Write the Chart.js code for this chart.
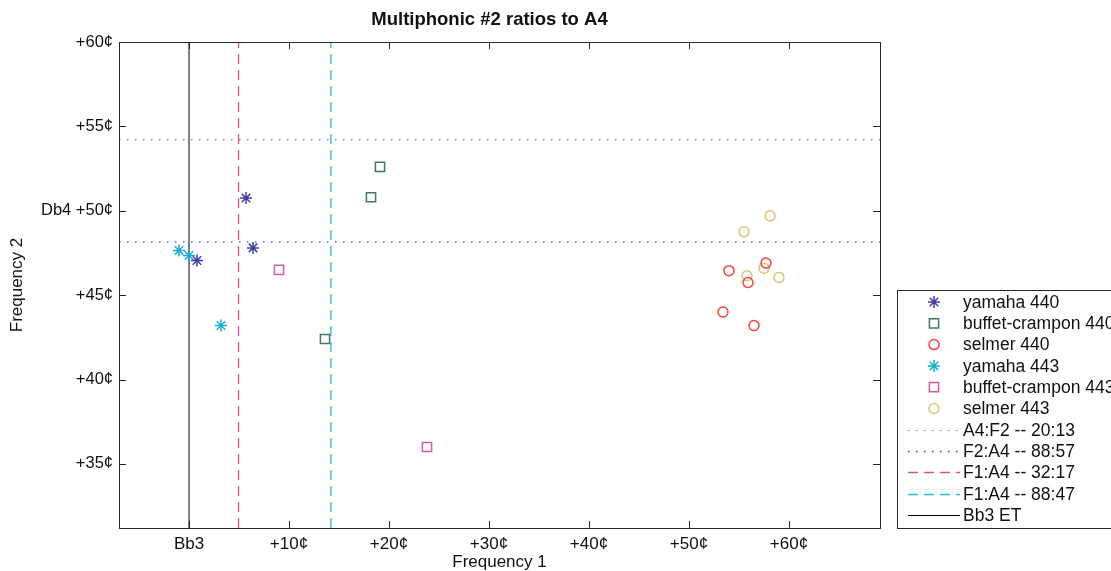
<!DOCTYPE html>
<html>
<head>
<meta charset="utf-8">
<script src="https://cdn.jsdelivr.net/npm/chart.js@4.4.1/dist/chart.umd.min.js"></script>
<style>
  body { margin:0; background:#fff; }
  #wrap { width:1111px; height:571px; position:relative; }
</style>
</head>
<body>
<div id="wrap"><canvas id="mycanvas" width="1111" height="571"></canvas></div>
<script>
// measured points, cents (x = freq 1 above Bb3, y = freq 2 above C#4/Db4)
var yamaha440X = [5.7, 6.4, 0.8];
var yamaha440Y = [50.75, 47.8, 47.05];
var buffet440X = [19.1, 18.2, 13.6];
var buffet440Y = [52.6, 50.8, 42.4];
var selmer440X = [57.7, 54.0, 55.9, 53.4, 56.5];
var selmer440Y = [46.9, 46.45, 45.75, 44.0, 43.2];
var yamaha443X = [-1.0, 0.0, 3.2];
var yamaha443Y = [47.65, 47.35, 43.2];
var buffet443X = [9.0, 23.8];
var buffet443Y = [46.5, 36.0];
var selmer443X = [58.1, 55.5, 55.8, 57.5, 59.0];
var selmer443Y = [49.7, 48.75, 46.15, 46.6, 46.05];

// reference ratios -> cents
var ratioA4F2 = [20, 13];
var ratioF2A4 = [88, 57];
var ratioF1A4a = [32, 17];
var ratioF1A4b = [88, 47];
var bb3ET = 0;

var xTicks = [0, 10, 20, 30, 40, 50, 60];
var yTicks = [35, 40, 45, 50, 55, 60];
var xMin = -7, xMax = 69.1;
var yMin = 31.2, yMax = 60;

function cents(r) { return 1200 * Math.log2(r[0] / r[1]); }
function pts(xs, ys) { return xs.map(function(x, i){ return {x:x, y:ys[i]}; }); }

var f2a = 800 - cents(ratioA4F2);
var f2b = 800 - cents(ratioF2A4);
var f1a = 1100 - cents(ratioF1A4a);
var f1b = 1100 - cents(ratioF1A4b);

var FONT = "'Liberation Sans', Arial, sans-serif";

var datasets = [
  {label:'yamaha 440', data:pts(yamaha440X, yamaha440Y), pointStyle:'star', radius:6, borderColor:'#4040a0', backgroundColor:'#4040a0', borderWidth:1.5},
  {label:'buffet-crampon 440', data:pts(buffet440X, buffet440Y), pointStyle:'rect', radius:6.5, borderColor:'#3f7a5e', backgroundColor:'rgba(0,0,0,0)', borderWidth:1.5},
  {label:'selmer 440', data:pts(selmer440X, selmer440Y), pointStyle:'circle', radius:5, borderColor:'#ff4040', backgroundColor:'rgba(0,0,0,0)', borderWidth:1.5},
  {label:'yamaha 443', data:pts(yamaha443X, yamaha443Y), pointStyle:'star', radius:6, borderColor:'#18b0d8', backgroundColor:'#18b0d8', borderWidth:1.5},
  {label:'buffet-crampon 443', data:pts(buffet443X, buffet443Y), pointStyle:'rect', radius:6.5, borderColor:'#d0609a', backgroundColor:'rgba(0,0,0,0)', borderWidth:1.5},
  {label:'selmer 443', data:pts(selmer443X, selmer443Y), pointStyle:'circle', radius:5, borderColor:'#d6c870', backgroundColor:'rgba(0,0,0,0)', borderWidth:1.5},
  {label:'A4:F2 -- 20:13', data:[{x:xMin,y:f2a},{x:xMax,y:f2a}], showLine:true, radius:0, borderColor:'#808080', borderWidth:1.2, borderDash:[1.5,6.5], isLine:true},
  {label:'F2:A4 -- 88:57', data:[{x:xMin,y:f2b},{x:xMax,y:f2b}], showLine:true, radius:0, borderColor:'#4a4ab8', borderWidth:1.3, borderDash:[1.5,6.5], isLine:true},
  {label:'F1:A4 -- 32:17', data:[{x:f1a,y:yMin},{x:f1a,y:yMax}], showLine:true, radius:0, borderColor:'#d8508c', borderWidth:1.3, borderDash:[10,6], isLine:true},
  {label:'F1:A4 -- 88:47', data:[{x:f1b,y:yMin},{x:f1b,y:yMax}], showLine:true, radius:0, borderColor:'#1fb8e0', borderWidth:1.3, borderDash:[10,6], isLine:true},
  {label:'Bb3 ET', data:[{x:bb3ET,y:yMin},{x:bb3ET,y:yMax}], showLine:true, radius:0, borderColor:'#000000', borderWidth:1, isLine:true}
];
// draw lines underneath the markers
datasets.forEach(function(d){ d.order = d.isLine ? 2 : 1; });

function drawMarker(ctx, style, x, y, r, color) {
  ctx.save();
  ctx.strokeStyle = color;
  ctx.lineWidth = 1.5;
  ctx.beginPath();
  if (style === 'star') {
    for (var a = 0; a < 4; a++) {
      var t = a * Math.PI / 4;
      ctx.moveTo(x - Math.cos(t) * r, y - Math.sin(t) * r);
      ctx.lineTo(x + Math.cos(t) * r, y + Math.sin(t) * r);
    }
  } else if (style === 'rect') {
    var s = r * Math.SQRT1_2;
    ctx.rect(x - s, y - s, 2 * s, 2 * s);
  } else {
    ctx.arc(x, y, r, 0, Math.PI * 2);
  }
  ctx.stroke();
  ctx.restore();
}

var framePlugin = {
  id: 'frame',
  afterDraw: function(chart) {
    var ctx = chart.ctx, a = chart.chartArea;
    var xs = chart.scales.x, ys = chart.scales.y;
    ctx.save();
    // title
    ctx.fillStyle = '#111';
    ctx.font = 'bold 18.5px ' + FONT;
    ctx.textAlign = 'center';
    ctx.textBaseline = 'middle';
    ctx.fillText('Multiphonic #2 ratios to A4', 489.5, 20);
    // axes box with inward ticks
    ctx.strokeStyle = '#262626';
    ctx.lineWidth = 1;
    ctx.strokeRect(Math.round(a.left) + 0.5, Math.round(a.top) + 0.5, Math.round(a.right - a.left), Math.round(a.bottom - a.top));
    ctx.beginPath();
    xTicks.forEach(function(v){
      var px = Math.round(xs.getPixelForValue(v)) + 0.5;
      ctx.moveTo(px, a.bottom); ctx.lineTo(px, a.bottom - 7);
      ctx.moveTo(px, a.top); ctx.lineTo(px, a.top + 7);
    });
    yTicks.forEach(function(v){
      var py = Math.round(ys.getPixelForValue(v)) + 0.5;
      ctx.moveTo(a.left, py); ctx.lineTo(a.left + 7, py);
      ctx.moveTo(a.right, py); ctx.lineTo(a.right - 7, py);
    });
    ctx.stroke();
    // legend box
    var lx = 897.5, ly = 290.5, lw = 240, lh = 238;
    ctx.fillStyle = '#fff';
    ctx.fillRect(lx, ly, lw, lh);
    ctx.strokeStyle = '#262626';
    ctx.strokeRect(lx, ly, lw, lh);
    ctx.font = '17.5px ' + FONT;
    ctx.textAlign = 'left';
    ctx.textBaseline = 'middle';
    chart.data.datasets.forEach(function(d, i){
      var ry = 302 + i * 21.3;
      if (d.isLine) {
        ctx.save();
        ctx.strokeStyle = d.borderColor;
        ctx.lineWidth = d.borderWidth;
        ctx.setLineDash(d.borderDash || []);
        ctx.beginPath();
        ctx.moveTo(908, Math.round(ry) + 0.5);
        ctx.lineTo(960, Math.round(ry) + 0.5);
        ctx.stroke();
        ctx.restore();
      } else {
        drawMarker(ctx, d.pointStyle, 934, ry, d.pointStyle === 'rect' ? 6.5 : (d.pointStyle === 'star' ? 6 : 5), d.borderColor);
      }
      ctx.fillStyle = '#111';
      ctx.fillText(d.label, 963, ry + 1);
    });
    ctx.restore();
  }
};

var ctx = document.getElementById('mycanvas');
var chart = new Chart(ctx, {
  type: 'scatter',
  data: { datasets: datasets },
  options: {
    responsive: false,
    animation: false,
    layout: { padding: { top: 42, right: 231, bottom: 0, left: 0 } },
    plugins: { legend: { display: false }, tooltip: { enabled: false }, title: { display: false } },
    elements: { line: { tension: 0, fill: false } },
    scales: {
      x: {
        type: 'linear', min: xMin, max: xMax,
        afterFit: function(s){ s.height = 43; },
        afterBuildTicks: function(s){ s.ticks = xTicks.map(function(v){ return {value:v}; }); },
        grid: { display: false, drawTicks: false },
        border: { display: false },
        ticks: {
          padding: 6, color: '#111', font: { family: FONT, size: 17 },
          maxRotation: 0, autoSkip: false,
          callback: function(v){ return v === 0 ? 'Bb3' : '+' + v + '\u00a2'; }
        },
        title: { display: true, text: 'Frequency 1', color: '#111', font: { family: FONT, size: 17 }, padding: { top: 0, bottom: -2 } }
      },
      y: {
        type: 'linear', min: yMin, max: yMax,
        afterFit: function(s){ s.width = 119; },
        afterBuildTicks: function(s){ s.ticks = yTicks.map(function(v){ return {value:v}; }); },
        grid: { display: false, drawTicks: false },
        border: { display: false },
        ticks: {
          padding: 6, color: '#111', font: { family: FONT, size: 16.5 }, autoSkip: false,
          callback: function(v){ return v === 50 ? 'Db4 +50\u00a2' : '+' + v + '\u00a2'; }
        },
        title: { display: true, text: 'Frequency 2', color: '#111', font: { family: FONT, size: 17 }, padding: { top: 7, bottom: 0 } }
      }
    }
  },
  plugins: [framePlugin]
});
</script>
</body>
</html>
